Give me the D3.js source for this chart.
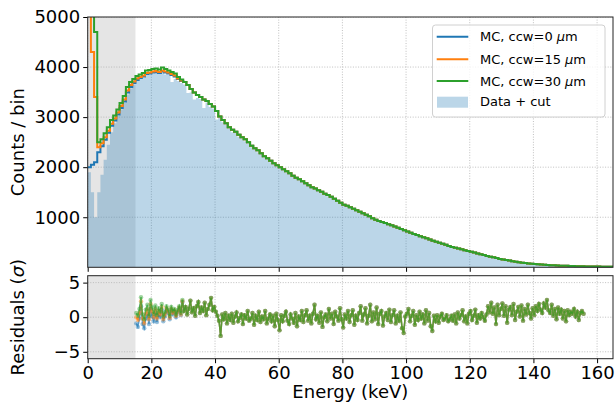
<!DOCTYPE html>
<html>
<head>
<meta charset="utf-8">
<script src="https://cdn.jsdelivr.net/npm/d3@7"></script>
<style>
  body { margin: 0; background: #fff; }
  text { font-family: "DejaVu Sans", sans-serif; fill: #000; }
</style>
</head>
<body>
<div id="chart"></div>
<script>
// Data (1 keV bins, bin i covers [i, i+1) keV)
const binWidth = 1;

// low-energy part (bins 0..29) is different for each MC sample
const mcLow0 = [2000, 2050, 2100, 2300, 2420, 2550, 2690, 2830, 2930, 3050, 3180, 3310, 3490, 3600, 3680,
  3740, 3780, 3810, 3860, 3870, 3890, 3900, 3880, 3910, 3890, 3870, 3840, 3810, 3760, 3720];
const mcLow15 = [6000, 4300, 3400, 2400, 2480, 2600, 2730, 2870, 2970, 3090, 3220, 3350, 3530, 3640, 3710,
  3770, 3800, 3830, 3880, 3890, 3910, 3920, 3900, 3930, 3910, 3890, 3860, 3830, 3770, 3730];
const mcLow30 = [9000, 6500, 4700, 2500, 2560, 2680, 2800, 2940, 3030, 3150, 3280, 3420, 3600, 3700, 3760,
  3820, 3850, 3880, 3930, 3940, 3960, 3970, 3950, 3990, 3960, 3930, 3900, 3870, 3800, 3750];
// above 30 keV the three MC samples lie on top of each other (bins 30..164)
const mcHigh = [3700, 3640, 3560, 3490, 3440, 3400, 3350, 3320, 3260, 3210,
  3120, 3010, 2940, 2880, 2800, 2750, 2710, 2650, 2600, 2560,
  2500, 2430, 2380, 2340, 2280, 2220, 2180, 2130, 2080, 2040,
  2000, 1960, 1920, 1880, 1830, 1790, 1760, 1720, 1680, 1640,
  1600, 1575, 1540, 1510, 1470, 1445, 1410, 1370, 1330, 1290,
  1250, 1230, 1200, 1170, 1140, 1110, 1080, 1050, 1020, 980,
  950, 925, 905, 885, 860, 840, 815, 790, 765, 740,
  715, 690, 665, 645, 620, 600, 580, 555, 530, 510,
  490, 470, 450, 425, 405, 390, 375, 360, 340, 325,
  310, 295, 275, 262, 245, 225, 212, 200, 185, 168,
  158, 148, 136, 122, 110, 100, 92, 85, 78, 72,
  66, 60, 56, 51, 46, 43, 40, 36, 33, 31,
  29, 27, 25, 23, 21, 20, 18, 17, 16, 15,
  14, 13, 13, 12, 12];

const dataCounts = [1900, 1500, 1000, 1500, 1850, 2150, 2450, 2700, 2880, 3020, 3150, 3280, 3450, 3570, 3650,
  3720, 3760, 3790, 3840, 3850, 3870, 3880, 3860, 3890, 3850, 3840, 3700, 3760, 3720, 3680,
  3650, 3480, 3490, 3350, 3380, 3360, 3180, 3290, 3200, 3170,
  2950, 2980, 2900, 2850, 2770, 2700, 2690, 2610, 2570, 2520,
  2470, 2400, 2360, 2300, 2260, 2190, 2160, 2100, 2060, 2010,
  1975, 1940, 1890, 1860, 1810, 1770, 1735, 1700, 1660, 1625,
  1585, 1550, 1525, 1490, 1455, 1420, 1395, 1350, 1310, 1275,
  1235, 1210, 1185, 1150, 1125, 1090, 1070, 1030, 1005, 965,
  940, 910, 890, 870, 845, 825, 800, 778, 752, 725,
  702, 680, 652, 635, 608, 590, 568, 545, 520, 500,
  482, 460, 442, 418, 398, 383, 368, 352, 335, 318,
  305, 288, 270, 256, 240, 222, 208, 196, 182, 164,
  155, 145, 133, 120, 108, 98, 90, 84, 76, 70,
  65, 59, 55, 50, 45, 42, 39, 35, 32, 30,
  28, 26, 24, 22, 20, 19, 17, 16, 15, 14,
  13, 12, 12, 11, 11];

// residuals every 0.5 keV: 15.25 .. 29.75 keV per sample, then shared 30.25 .. 155.75 keV
const residStep = 0.5;
const residLow0 = [-0.9, -1.4, -0.2, 1.6, -1.0, -1.6, -0.2, 0.5, -1.0, 1.2, 0.1, -0.6, 0.6, -0.7, 0.4,
  0.0, 1.1, -0.6, 0.1, 1.0, 0.6, -0.3, 1.0, 0.4, 0.8, 0.0, 0.7, 1.3, 0.3, 2.2];
const residLow15 = [0.0, -0.4, 0.6, 2.3, -0.2, -0.9, 0.5, 1.2, -0.3, 1.9, 0.8, 0.0, 1.2, -0.2, 0.9,
  0.4, 1.5, -0.3, 0.4, 1.3, 0.8, -0.1, 1.2, 0.6, 1.0, 0.2, 0.8, 1.4, 0.4, 2.3];
const residLow30 = [0.6, 0.2, 1.2, 2.9, 0.4, -0.3, 1.1, 1.8, 0.2, 2.5, 1.4, 0.5, 1.7, 0.3, 1.3,
  0.8, 1.9, 0.1, 0.7, 1.6, 1.1, 0.2, 1.5, 0.9, 1.2, 0.4, 1.0, 1.6, 0.6, 2.5];
const residHigh = [
  0.9, 1.5, 0.4, 1.2, 2.4, 0.7, 1.3, 0.2, 1.6, 2.2,
  0.6, 1.4, 0.9, 2.1, 0.3, 1.2, 1.8, 2.8, 1.0, 1.5,
  0.8, 0.2, -0.5, -2.7, 0.4, -0.3, 0.6, -0.9, 0.2, -0.4,
  0.5, -0.8, 0.1, 0.7, -0.6, -0.1, 0.4, -1.0, 0.3, -0.2,
  0.9, -0.5, -0.2, 0.6, -1.1, 0.2, -0.4, 0.8, -0.7, 0.1,
  -0.3, 0.9, -0.9, -0.2, 0.4, -0.6, 0.2, -1.3, 0.5, -0.4,
  -1.9, 0.3, -0.6, 0.2, 0.8, -0.5, -1.0, 0.4, -0.2, -0.8,
  0.6, -1.3, 0.1, -0.4, 0.9, -0.7, 0.3, 1.0, -0.5, 0.2,
  -0.9, 0.5, 1.8, -0.3, 0.2, -0.8, 0.7, -1.4, 0.0, 0.4,
  -0.6, 1.2, -0.2, 0.5, -1.0, 0.8, 0.1, -0.5, 1.3, -0.3,
  -1.5, 0.4, -0.2, 0.9, -0.7, 0.3, 1.0, -1.1, 0.2, -0.4,
  0.6, 1.6, -0.5, 0.4, 1.3, -0.9, 0.2, 1.8, -0.6, 0.7,
  -0.3, 1.4, -1.0, 0.5, 0.9, -1.2, 0.1, 0.6, -0.4, 1.1,
  -0.7, 0.3, 1.0, -0.9, 0.2, -0.5, 0.7, -1.6, -2.3, 0.1,
  0.5, 1.2, -0.6, 0.2, 0.9, -1.1, 0.3, -0.4, 0.8, -0.2,
  0.4, -0.9, 1.0, -0.5, 0.6, -1.3, -2.0, 0.2, -0.6, 0.3,
  -0.8, 0.1, 0.5, -0.4, -0.2, 0.3, -0.6, -0.3, 0.2, -0.5,
  0.4, -0.9, 0.7, -0.2, 0.3, 1.0, -0.6, 0.1, -0.9, 0.5,
  0.9, -0.4, 0.2, 1.1, -0.8, 0.3, -0.2, 0.6, 0.0, -0.5,
  0.4, 1.6, 0.7, 2.1, 0.5, 1.4, -1.0, 1.8, 0.3, 1.2,
  2.0, 0.2, 1.6, -0.8, 1.1, 1.5, 0.3, 1.9, -0.4, 0.8,
  1.5, 0.1, 1.7, -0.5, 1.2, 0.4, 1.8, 0.6, -0.2, 1.3,
  0.3, 1.6, 0.9, 1.9, 1.1, 0.6, 2.0, 1.4, 2.5, 1.0,
  0.6, 1.8, 0.2, 1.2, -0.3, 1.4, 0.5, 1.1, -0.2, 0.9,
  -0.6, 1.0, 0.3, 0.8, 0.5, 1.2, 0.1, 0.8, -0.4, 0.6,
  0.9, 0.5];

const seriesNames = ['MC, ccw=0', 'MC, ccw=15', 'MC, ccw=30'];
const seriesColors = ['#1f77b4', '#ff7f0e', '#2ca02c'];
const xTicks = [0, 20, 40, 60, 80, 100, 120, 140, 160];
const yTicksTop = [1000, 2000, 3000, 4000, 5000];
const yTicksBottom = [-5, 0, 5];
const cutEnergy = 15;

// Dimensions
const width = 616, height = 407;
const left = 87.7, right = 613;
const top1 = 17, bottom1 = 267.3;
const top2 = 275.7, bottom2 = 358.7;

const svg = d3.select('#chart').append('svg')
  .attr('width', width).attr('height', height);

// Scales
const x = d3.scaleLinear().domain([0, 165]).range([left, right]);
const yTop = d3.scaleLinear().domain([0, 5000]).range([bottom1, top1]);
const yBot = d3.scaleLinear().domain([-6, 6]).range([bottom2, top2]);

const defs = svg.append('defs');
defs.append('clipPath').attr('id', 'clipTop').append('rect')
  .attr('x', left).attr('y', top1).attr('width', right - left).attr('height', bottom1 - top1);
defs.append('clipPath').attr('id', 'clipBot').append('rect')
  .attr('x', left).attr('y', top2).attr('width', right - left).attr('height', bottom2 - top2);

// Build histogram points
const mcSeries = [mcLow0, mcLow15, mcLow30].map(low => low.concat(mcHigh));
const toSteps = arr => arr.map((v, i) => [i * binWidth, v]).concat([[arr.length * binWidth, arr[arr.length - 1]]]);
const residSeries = [residLow0, residLow15, residLow30].map(low =>
  low.map((v, i) => [15.25 + i * residStep, v])
    .concat(residHigh.map((v, i) => [30.25 + i * residStep, v])));

function drawGrid(g, yScale, yTicks, y0, y1) {
  g.selectAll('.gx').data(xTicks).join('line')
    .attr('x1', d => x(d)).attr('x2', d => x(d)).attr('y1', y0).attr('y2', y1)
    .attr('stroke', '#b0b0b0').attr('stroke-width', 0.8).attr('stroke-dasharray', '1,1.6');
  g.selectAll('.gy').data(yTicks).join('line')
    .attr('x1', left).attr('x2', right).attr('y1', d => yScale(d)).attr('y2', d => yScale(d))
    .attr('stroke', '#b0b0b0').attr('stroke-width', 0.8).attr('stroke-dasharray', '1,1.6');
}

// ---------- top panel ----------
const gTop = svg.append('g').attr('clip-path', 'url(#clipTop)');
gTop.append('rect').attr('x', x(0)).attr('y', top1).attr('width', x(cutEnergy) - x(0))
  .attr('height', bottom1 - top1).attr('fill', '#e5e5e5');
drawGrid(gTop.append('g'), yTop, yTicksTop, top1, bottom1);

const area = d3.area().curve(d3.curveStepAfter)
  .x(d => x(d[0])).y0(yTop(0)).y1(d => yTop(d[1]));
gTop.append('path').datum(toSteps(dataCounts))
  .attr('d', area).attr('fill', '#1f77b4').attr('fill-opacity', 0.3);

const stepLine = d3.line().curve(d3.curveStepAfter)
  .x(d => x(d[0])).y(d => yTop(d[1]));
gTop.selectAll('.mc').data(mcSeries).join('path')
  .attr('d', d => stepLine(toSteps(d)))
  .attr('fill', 'none').attr('stroke', (d, i) => seriesColors[i]).attr('stroke-width', 2);

// ---------- bottom panel ----------
const gBot = svg.append('g').attr('clip-path', 'url(#clipBot)');
gBot.append('rect').attr('x', x(0)).attr('y', top2).attr('width', x(cutEnergy) - x(0))
  .attr('height', bottom2 - top2).attr('fill', '#e5e5e5');
drawGrid(gBot.append('g'), yBot, yTicksBottom, top2, bottom2);

const residLine = d3.line().x(d => x(d[0])).y(d => yBot(d[1]));
residSeries.forEach((s, i) => {
  const g = gBot.append('g');
  g.append('path').datum(s).attr('d', residLine)
    .attr('fill', 'none').attr('stroke', seriesColors[i]).attr('stroke-width', 1.5).attr('stroke-opacity', 0.7);
  g.selectAll('circle').data(s).join('circle')
    .attr('cx', d => x(d[0])).attr('cy', d => yBot(d[1])).attr('r', 2.2)
    .attr('fill', seriesColors[i]).attr('fill-opacity', 0.45);
});

// ---------- axes ----------
function styleAxis(g) {
  g.select('.domain').remove();
  g.selectAll('.tick line').attr('stroke', '#000').attr('stroke-width', 1);
  g.selectAll('.tick text').style('font-size', '18px').style('font-family', 'DejaVu Sans');
}
svg.append('g').attr('transform', `translate(0,${bottom1})`)
  .call(d3.axisBottom(x).tickValues(xTicks).tickSize(4.5).tickFormat(''))
  .call(styleAxis);
svg.append('g').attr('transform', `translate(0,${bottom2})`)
  .call(d3.axisBottom(x).tickValues(xTicks).tickSize(4.5).tickPadding(3).tickFormat(d3.format('d')))
  .call(styleAxis);
svg.append('g').attr('transform', `translate(${left},0)`)
  .call(d3.axisLeft(yTop).tickValues(yTicksTop).tickSize(4.5).tickPadding(3).tickFormat(d3.format('d')))
  .call(styleAxis);
svg.append('g').attr('transform', `translate(${left},0)`)
  .call(d3.axisLeft(yBot).tickValues(yTicksBottom).tickSize(4.5).tickPadding(3).tickFormat(d3.format('d')))
  .call(styleAxis);

// frames
[[top1, bottom1], [top2, bottom2]].forEach(([a, b]) => {
  svg.append('rect').attr('x', left).attr('y', a).attr('width', right - left).attr('height', b - a)
    .attr('fill', 'none').attr('stroke', '#222').attr('stroke-width', 1);
});

// labels
svg.append('text').attr('transform', `translate(18,${(top1 + bottom1) / 2}) rotate(-90)`)
  .attr('text-anchor', 'middle').attr('dy', '0.35em').style('font-size', '18px').text('Counts / bin');
svg.append('text').attr('transform', `translate(18,${(top2 + bottom2) / 2}) rotate(-90)`)
  .attr('text-anchor', 'middle').attr('dy', '0.35em').style('font-size', '18px')
  .call(t => {
    t.append('tspan').text('Residuals (');
    t.append('tspan').style('font-style', 'italic').text('σ');
    t.append('tspan').text(')');
  });
svg.append('text').attr('x', (left + right) / 2).attr('y', 398)
  .attr('text-anchor', 'middle').style('font-size', '18px').text('Energy (keV)');

// legend
const legend = svg.append('g');
legend.append('rect').attr('x', 432.5).attr('y', 25).attr('width', 172.5).attr('height', 92)
  .attr('rx', 3).attr('fill', '#fff').attr('fill-opacity', 0.8)
  .attr('stroke', '#d0d0d0').attr('stroke-width', 1);
const rowY = [36.7, 59.3, 81, 101.7];
seriesNames.forEach((name, i) => {
  legend.append('line').attr('x1', 436.7).attr('x2', 468.3).attr('y1', rowY[i]).attr('y2', rowY[i])
    .attr('stroke', seriesColors[i]).attr('stroke-width', 2);
  legend.append('text').attr('x', 480).attr('y', rowY[i]).attr('dy', '0.35em')
    .style('font-size', '13px')
    .call(t => {
      t.append('tspan').text(name + ' ');
      t.append('tspan').style('font-style', 'italic').text('μ');
      t.append('tspan').text('m');
    });
});
legend.append('rect').attr('x', 437).attr('y', rowY[3] - 5).attr('width', 31).attr('height', 11)
  .attr('fill', '#1f77b4').attr('fill-opacity', 0.3);
legend.append('text').attr('x', 480).attr('y', rowY[3]).attr('dy', '0.35em')
  .style('font-size', '13px').text('Data + cut');
</script>
</body>
</html>
